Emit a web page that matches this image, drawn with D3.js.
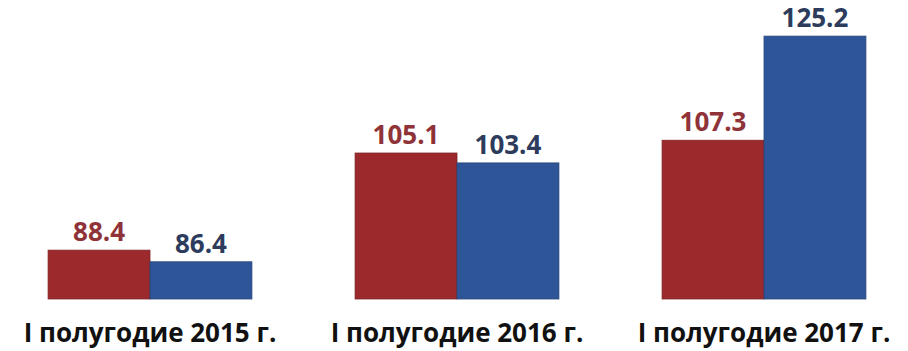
<!DOCTYPE html>
<html>
<head>
<meta charset="utf-8">
<script src="https://cdn.jsdelivr.net/npm/d3@7"></script>
<style>
  html, body { margin: 0; padding: 0; background: #fff; }
  svg { display: block; }
  text { font-family: "Open Sans", "DejaVu Sans", sans-serif; font-weight: 700; }
</style>
</head>
<body>
<script>
// Half-year periods and the two compared series
const categories = ["I полугодие 2015 г.", "I полугодие 2016 г.", "I полугодие 2017 г."];
const seriesNames = ["a", "b"];
const seriesA = [88.4, 105.1, 107.3];
const seriesB = [86.4, 103.4, 125.2];

const barColors = ["#9c2a2d", "#2e5597"];
const strokeColors = ["#7e2326", "#26467c"];
const labelColors = ["#8f3338", "#2d3c5c"];

const W = 908, H = 351;
const svg = d3.select("body").append("svg").attr("width", W).attr("height", H);

const rows = categories.map((c, i) => ({ cat: c, values: [seriesA[i], seriesB[i]] }));

// Value axis starts at 80 (truncated), no axis drawn
const y = d3.scaleLinear().domain([80, 130]).range([299, 8.2]);

const x0 = d3.scaleBand().domain(categories).range([-3.5, 917.5]).paddingInner(0.336).paddingOuter(0.168);
const x1 = d3.scaleBand().domain(seriesNames).range([0, x0.bandwidth()]);

const g = svg.selectAll("g.grp").data(rows).join("g")
  .attr("class", "grp")
  .attr("transform", d => `translate(${x0(d.cat)},0)`);

g.selectAll("rect").data(d => d.values.map((v, k) => ({ v, k }))).join("rect")
  .attr("x", d => x1(seriesNames[d.k]))
  .attr("y", d => y(d.v))
  .attr("width", x1.bandwidth())
  .attr("height", d => y(80) - y(d.v))
  .attr("fill", d => barColors[d.k])
  .attr("stroke", d => strokeColors[d.k])
  .attr("stroke-width", 0.8);

g.selectAll("text.val").data(d => d.values.map((v, k) => ({ v, k }))).join("text")
  .attr("class", "val")
  .attr("x", d => x1(seriesNames[d.k]) + x1.bandwidth() / 2)
  .attr("y", d => y(d.v) - 9)
  .attr("text-anchor", "middle")
  .attr("font-size", 26)
  .attr("fill", d => labelColors[d.k])
  .text(d => d.v.toFixed(1));

svg.selectAll("text.cat").data(categories).join("text")
  .attr("class", "cat")
  .attr("x", d => x0(d) + x0.bandwidth() / 2)
  .attr("y", 342)
  .attr("text-anchor", "middle")
  .attr("font-size", 26)
  .attr("fill", "#111")
  .text(d => d);
</script>
</body>
</html>
